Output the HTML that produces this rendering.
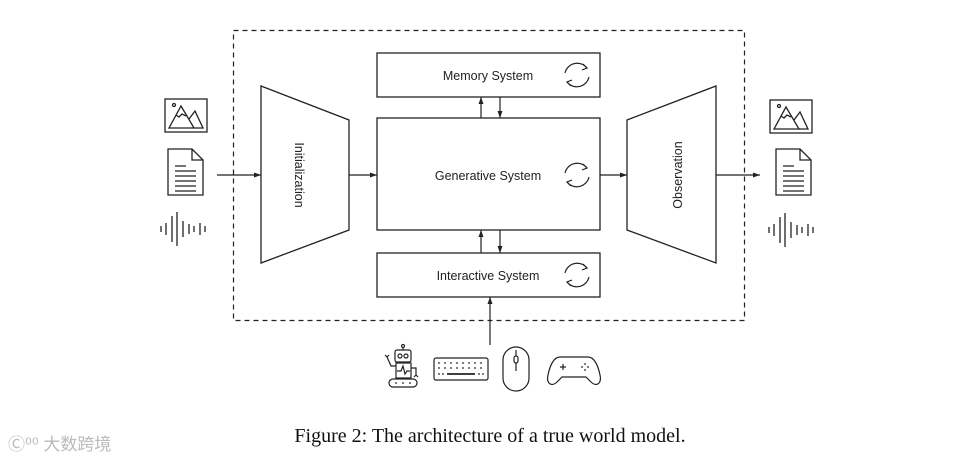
<!DOCTYPE html>
<html><head><meta charset="utf-8"><style>
html,body{margin:0;padding:0;background:#fff;width:975px;height:462px;overflow:hidden}
svg{display:block}
</style></head><body>
<svg width="975" height="462" viewBox="0 0 975 462" xmlns="http://www.w3.org/2000/svg">
<defs>
<marker id="a" markerWidth="8" markerHeight="8" refX="7" refY="4" orient="auto" markerUnits="userSpaceOnUse">
<path d="M0,1.5 L7,4 L0,6.5 Z" fill="#222"/></marker>
<g id="cyc" fill="none" stroke="#222" stroke-width="1.2">
<path d="M-12,-2 A12.5,12.5 0 0 1 10,-7"/><path d="M6,-11 L10,-7 L5,-5"/>
<path d="M12,2 A12.5,12.5 0 0 1 -10,7"/><path d="M-6,11 L-10,7 L-5,5"/>
</g>
<g id="pic" fill="none" stroke="#222" stroke-width="1.3">
<rect x="0" y="0" width="42" height="33" fill="#fff"/>
<circle cx="9" cy="6" r="1.5"/>
<path d="M4,29 L16,7 L29,29 Z"/><path d="M24,20 L30,12 L38,29 L29,29"/>
<path d="M11,16 L14,18 L17,15 L21,17"/>
</g>
<g id="doc" fill="none" stroke="#222" stroke-width="1.3">
<path d="M0,0 L24,0 L35,11 L35,46 L0,46 Z"/><path d="M24,0 L24,11 L35,11"/>
<path d="M7,17 L18,17 M7,22 L28,22 M7,27 L28,27 M7,32 L28,32 M7,37 L28,37 M7,42 L28,42"/>
</g>
<g id="wav" stroke="#222" stroke-width="1.3">
<path d="M1,14 V20 M6,11 V23 M12,4 V30 M17,0 V34 M23,9 V25 M29,12 V22 M34,14 V20 M40,11 V23 M45,14 V20"/>
</g>
</defs>
<rect x="233.5" y="30.5" width="511" height="290" fill="none" stroke="#222" stroke-width="1.2" stroke-dasharray="5,4"/>
<use href="#pic" x="165" y="99"/>
<use href="#doc" x="168" y="149"/>
<use href="#wav" x="160" y="212"/>
<use href="#pic" x="770" y="100"/>
<use href="#doc" x="776" y="149"/>
<use href="#wav" x="768" y="213"/>
<g fill="none" stroke="#222" stroke-width="1.3">
<path d="M261,86 L349,120 L349,230 L261,263 Z"/>
<path d="M627,120 L716,86 L716,263 L627,230 Z"/>
<rect x="377" y="53" width="223" height="44"/>
<rect x="377" y="118" width="223" height="112"/>
<rect x="377" y="253" width="223" height="44"/>
</g>
<g stroke="#222" stroke-width="1.2" marker-end="url(#a)">
<line x1="217" y1="175" x2="261" y2="175"/>
<line x1="349" y1="175" x2="377" y2="175"/>
<line x1="600" y1="175" x2="627" y2="175"/>
<line x1="716" y1="175" x2="760" y2="175"/>
<line x1="481" y1="118" x2="481" y2="97"/>
<line x1="500" y1="97" x2="500" y2="118"/>
<line x1="481" y1="253" x2="481" y2="230"/>
<line x1="500" y1="230" x2="500" y2="253"/>
<line x1="490" y1="345" x2="490" y2="297"/>
</g>
<use href="#cyc" x="577" y="75"/>
<use href="#cyc" x="577" y="175"/>
<use href="#cyc" x="577" y="275"/>
<g font-family="Liberation Sans, sans-serif" font-size="12.5" fill="#222" text-anchor="middle">
<text x="488" y="80">Memory System</text>
<text x="488" y="180">Generative System</text>
<text x="488" y="280">Interactive System</text>
<text transform="translate(295,175) rotate(90)">Initialization</text>
<text transform="translate(682,175) rotate(-90)">Observation</text>
</g>
<!-- robot -->
<g fill="none" stroke="#222" stroke-width="1.2">
<rect x="395" y="350" width="16" height="12" rx="2"/><circle cx="400" cy="356" r="2"/><circle cx="406" cy="356" r="2"/>
<line x1="403" y1="350" x2="403" y2="347"/><circle cx="403" cy="346" r="1.5"/>
<rect x="396" y="363" width="15" height="15"/>
<path d="M397,371 L401,371 L403,366 L405,374 L407,371 L410,371"/>
<path d="M396,366 L391,366 L387,357 M385,355 L387,357 L389,355"/>
<path d="M411,368 L416,368 L416,375 M414,377 L416,375 L418,377"/>
<rect x="389" y="379" width="28" height="8" rx="4"/>
</g>
<g fill="#222"><circle cx="396" cy="383" r=".9"/><circle cx="403" cy="383" r=".9"/><circle cx="410" cy="383" r=".9"/></g>
<!-- keyboard -->
<g fill="none" stroke="#222" stroke-width="1.2">
<rect x="434" y="358" width="54" height="22" rx="2"/>
<path d="M447,374 L475,374" stroke-width="1.8"/>
</g>
<g fill="#222">
<circle cx="439" cy="363" r=".9"/><circle cx="445" cy="363" r=".9"/><circle cx="451" cy="363" r=".9"/><circle cx="457" cy="363" r=".9"/><circle cx="463" cy="363" r=".9"/><circle cx="469" cy="363" r=".9"/><circle cx="475" cy="363" r=".9"/><circle cx="481" cy="363" r=".9"/>
<circle cx="439" cy="368" r=".9"/><circle cx="445" cy="368" r=".9"/><circle cx="451" cy="368" r=".9"/><circle cx="457" cy="368" r=".9"/><circle cx="463" cy="368" r=".9"/><circle cx="469" cy="368" r=".9"/><circle cx="475" cy="368" r=".9"/><circle cx="481" cy="368" r=".9"/>
<circle cx="439" cy="374" r=".9"/><circle cx="443" cy="374" r=".9"/><circle cx="479" cy="374" r=".9"/><circle cx="483" cy="374" r=".9"/>
</g>
<!-- mouse -->
<g fill="none" stroke="#222" stroke-width="1.2">
<rect x="503" y="347" width="26" height="44" rx="13"/>
<line x1="516" y1="350" x2="516" y2="371"/><rect x="514" y="356" width="4" height="7" rx="2" fill="#fff"/>
</g>
<!-- gamepad -->
<g fill="none" stroke="#222" stroke-width="1.2">
<path d="M560,357 L588,357 C594,357 598,365 600,375 C602,384 596,387 591,382 L586,377 L562,377 L557,382 C552,387 546,384 548,375 C550,365 554,357 560,357 Z"/>
<path d="M560,367 L566,367 M563,364 L563,370"/>
</g>
<g fill="#222"><circle cx="585" cy="364" r=".9"/><circle cx="585" cy="370" r=".9"/><circle cx="582" cy="367" r=".9"/><circle cx="588" cy="367" r=".9"/></g>
<text x="490" y="442" font-family="Liberation Serif, serif" font-size="20" fill="#111" text-anchor="middle">Figure 2: The architecture of a true world model.</text>
<text x="8" y="450" font-family="Liberation Sans, 'Noto Sans CJK SC', sans-serif" font-size="17" fill="#bbb">Ⓒ⁰⁰ 大数跨境</text>
</svg>
</body></html>
